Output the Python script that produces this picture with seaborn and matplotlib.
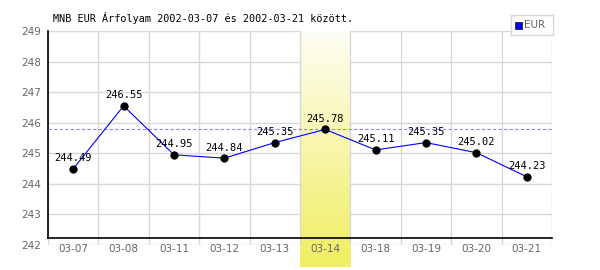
import numpy as np
import pandas as pd
import matplotlib
matplotlib.use("Agg")
import matplotlib.pyplot as plt
import seaborn as sns
from matplotlib.colors import LinearSegmentedColormap
from matplotlib.patches import Rectangle

dates = ["03-07", "03-08", "03-11", "03-12", "03-13", "03-14", "03-18", "03-19", "03-20", "03-21"]
rates = [244.49, 246.55, 244.95, 244.84, 245.35, 245.78, 245.11, 245.35, 245.02, 244.23]
highlight = "03-14"
title = "MNB EUR Árfolyam 2002-03-07 és 2002-03-21 között."
series_name = "EUR"
y_ticks = [242, 243, 244, 245, 246, 247, 248, 249]

df = pd.DataFrame({"date": dates, "rate": rates})

sns.set_style("white")
fig = plt.figure(figsize=(6, 2.7), dpi=100)
ax = fig.add_axes([48 / 600, 25 / 270, 504 / 600, 214 / 270])

sns.lineplot(data=df, x="date", y="rate", ax=ax, color="#0000ff", linewidth=0.8,
             marker="o", markersize=5.2, markerfacecolor="black", markeredgecolor="black",
             zorder=5, sort=False)

ax.set_xlim(-0.5, len(dates) - 0.5)
ax.set_ylim(242, 249)
ax.set_yticks(y_ticks)
ax.set_xticks(range(len(dates)))
ax.set_xticklabels(dates)
ax.set_xticks(np.arange(len(dates) + 1) - 0.5, minor=True)
ax.grid(False)
ax.yaxis.grid(True, which="major", color="#d8d8d8", linewidth=1)
ax.xaxis.grid(True, which="minor", color="#d8d8d8", linewidth=1)
ax.tick_params(axis="both", which="both", length=0)
ax.tick_params(axis="y", labelsize=7.5, labelcolor="#666666", pad=5)
ax.tick_params(axis="x", labelsize=7.5, labelcolor="#666666", pad=4)
for lab in ax.get_xticklabels() + ax.get_yticklabels():
    lab.set_family("DejaVu Sans")
ax.set_xlabel("")
ax.set_ylabel("")
ax.yaxis.set_zorder(0.5)
ax.xaxis.set_zorder(2)

for s in ["top", "right"]:
    ax.spines[s].set_visible(False)
ax.spines["bottom"].set_position(("axes", 7 / 214))
ax.spines["bottom"].set_color("black")
ax.spines["bottom"].set_linewidth(1.2)
ax.spines["bottom"].set_zorder(4)
ax.spines["left"].set_color("black")
ax.spines["left"].set_linewidth(1.2)
ax.spines["left"].set_bounds(242 + 7 / 214 * 7, 249)

# gradient highlight band
hi = dates.index(highlight)
cmap = LinearSegmentedColormap.from_list("hl", ["#fefef6", "#f0ee60"])
grad = np.linspace(0, 1, 256).reshape(-1, 1)
ybot = 242 - 22 / 214 * 7
ax.imshow(grad, cmap=cmap, aspect="auto", origin="upper",
          extent=(hi - 0.5, hi + 0.5, ybot, 249), zorder=1, clip_on=False)
ax.set_xlim(-0.5, len(dates) - 0.5)
ax.set_ylim(242, 249)

# dashed reference line at highlighted value
ax.axhline(rates[hi], color="#8888ff", linestyle=(0, (3, 2)), linewidth=0.8, zorder=3)

# value labels
for i, v in enumerate(rates):
    ax.annotate(f"{v:.2f}", (i, v), xytext=(0, 4), textcoords="offset points",
                ha="center", va="bottom", fontsize=7.5, family="DejaVu Sans Mono",
                color="black", zorder=6)

fig.text(53 / 600, 1 - 18 / 270, title, fontsize=7.3, family="DejaVu Sans Mono",
         color="black", va="center", ha="left")

# legend
leg_ax = fig.add_axes([511 / 600, 1 - 35 / 270, 42 / 600, 20 / 270])
leg_ax.set_xlim(0, 42)
leg_ax.set_ylim(0, 20)
leg_ax.set_xticks([])
leg_ax.set_yticks([])
for s in leg_ax.spines.values():
    s.set_color("#d8d8d8")
    s.set_linewidth(1)
leg_ax.add_patch(Rectangle((4, 6.5), 7, 7, facecolor="#0000ff", edgecolor="#333333", linewidth=0.7))
leg_ax.text(13, 10, series_name, fontsize=7.5, color="#666666", va="center", ha="left",
            family="DejaVu Sans")

fig.savefig("out.png", dpi=100, facecolor="white")
